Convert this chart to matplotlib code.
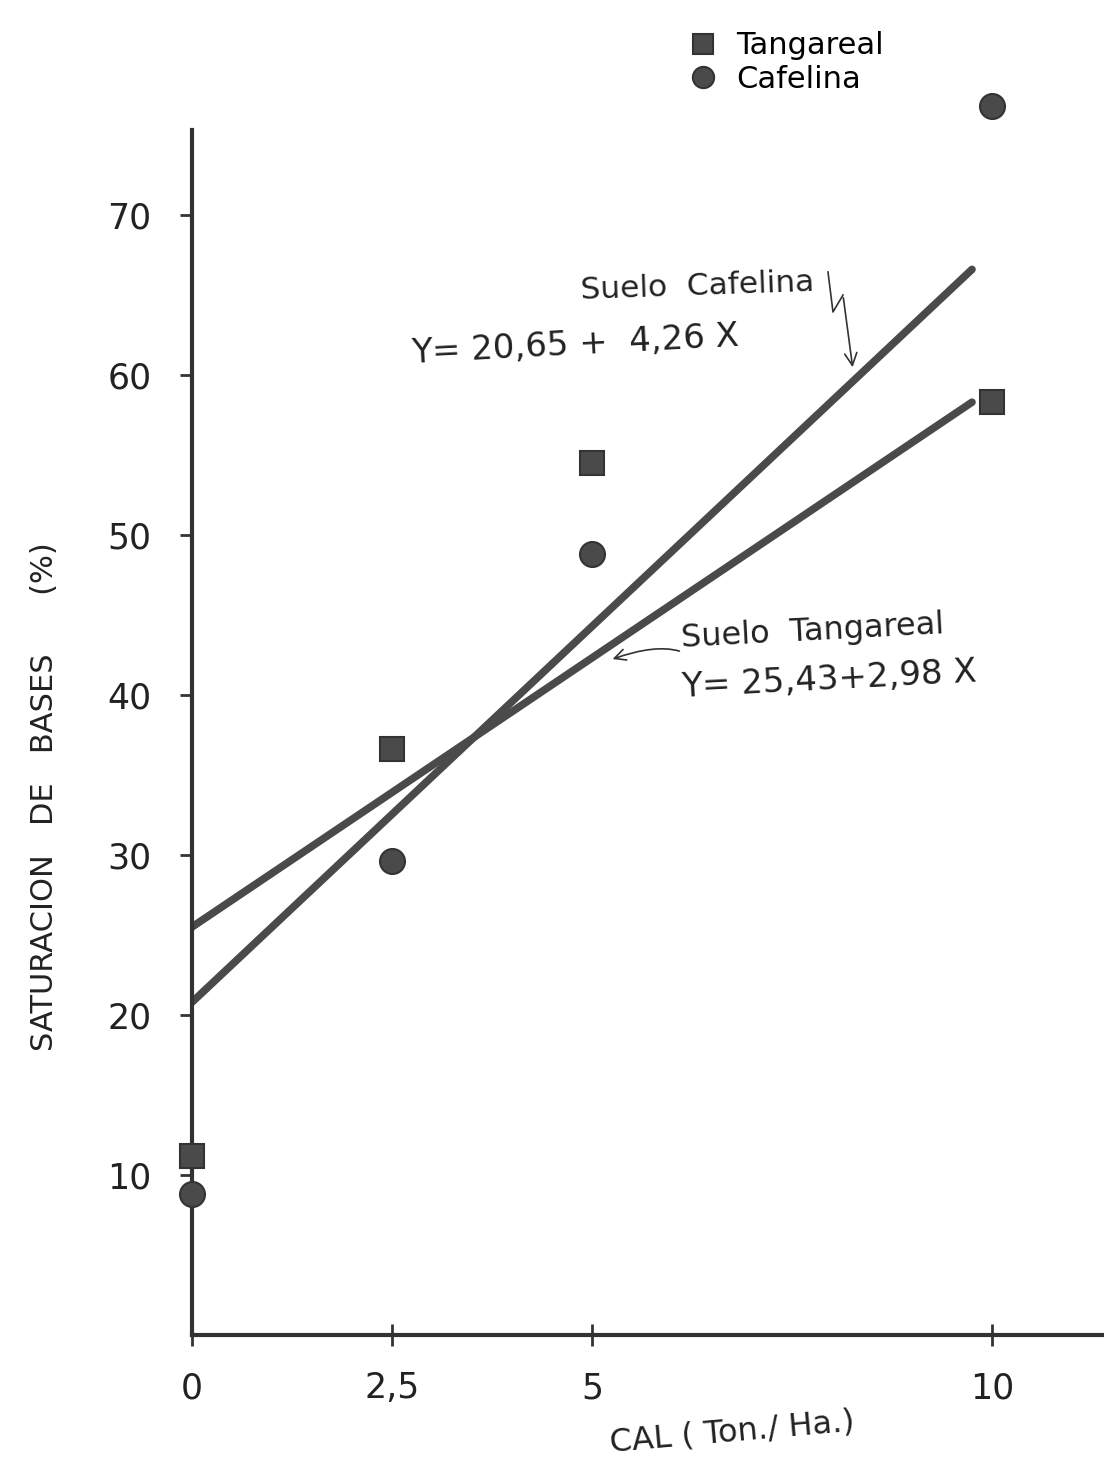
import matplotlib

matplotlib.use("Agg")
import matplotlib.pyplot as plt
from matplotlib.lines import Line2D

# lime dose (Ton./Ha.) and base saturation (%)
cal_dose = [0, 2.5, 5, 10]
tangareal = [11.2, 36.6, 54.5, 58.3]
cafelina = [8.8, 29.6, 48.8, 76.8]

# fitted lines, end points as drawn
fit_x = [0, 9.75]
tangareal_fit = [25.5, 58.3]
cafelina_fit = [20.8, 66.6]

y_ticks = [10, 20, 30, 40, 50, 60, 70]
x_ticks = [0, 2.5, 5, 10]
x_tick_labels = ["0", "2,5", "5", "10"]

W, H = 1104, 1463
INK = "#333333"
MARK = "#4a4a4a"
TXT = "#222222"


def px(x, y):
    return x / W, 1 - y / H


plt.rcParams["font.family"] = ["DejaVu Sans"]

fig = plt.figure(figsize=(W / 100, H / 100), dpi=100)
ax = fig.add_axes([192 / W, 1 - 1335 / H, (W - 192) / W, (1335 - 130) / H])

ax.plot(fit_x, cafelina_fit, color=MARK, lw=5.5, solid_capstyle="round", zorder=2)
ax.plot(fit_x, tangareal_fit, color=MARK, lw=5.5, solid_capstyle="round", zorder=2)

ax.plot(cal_dose, tangareal, ls="none", marker="s", ms=17, color=MARK,
        mec=INK, mew=1.5, clip_on=False, zorder=3, label="Tangareal")
ax.plot(cal_dose, cafelina, ls="none", marker="o", ms=18, color=MARK,
        mec=INK, mew=1.5, clip_on=False, zorder=3, label="Cafelina")

ax.set_xlim(0, (W - 192) / 80)
ax.set_ylim(0, (1335 - 130) / 16)

for side in ("top", "right"):
    ax.spines[side].set_visible(False)
for side in ("left", "bottom"):
    ax.spines[side].set_linewidth(3)
    ax.spines[side].set_color(INK)

ax.set_yticks(y_ticks)
ax.set_xticks(x_ticks)
ax.set_xticklabels(x_tick_labels)
ax.tick_params(axis="y", direction="out", length=9, width=2, color=INK,
               labelsize=25, pad=20, labelcolor=TXT)
ax.tick_params(axis="x", direction="inout", length=16, width=2, color=INK,
               labelsize=25, pad=18, labelcolor=TXT)

fig.text(*px(45, 797), "SATURACION   DE   BASES      (%)", rotation=90,
         ha="center", va="center", fontsize=22, color=TXT)
fig.text(*px(732, 1432), "CAL ( Ton./ Ha.)", rotation=5,
         ha="center", va="center", fontsize=23, color=TXT)

fig.legend(loc="upper left", bbox_to_anchor=px(660, 4), frameon=False,
           fontsize=22, markerscale=0.85, handlelength=1.0,
           handletextpad=0.6, labelspacing=0.15)

# regression labels
fig.text(*px(580, 286), "Suelo  Cafelina", rotation=2, ha="left",
         va="center", fontsize=22.5, color=TXT)
fig.text(*px(410, 345), "Y= 20,65 +  4,26 X", rotation=3, ha="left",
         va="center", fontsize=24.5, color=TXT)
fig.text(*px(680, 632), "Suelo  Tangareal", rotation=3, ha="left",
         va="center", fontsize=23, color=TXT)
fig.text(*px(680, 680), "Y= 25,43+2,98 X", rotation=3, ha="left",
         va="center", fontsize=24.5, color=TXT)

# hand drawn arrows
zig = [px(828, 272), px(833, 312), px(843, 295)]
fig.add_artist(Line2D([p[0] for p in zig], [p[1] for p in zig],
                      transform=fig.transFigure, color=INK, lw=1.2))
plt.annotate("", xy=px(853, 370), xytext=px(843, 295),
             xycoords="figure fraction", textcoords="figure fraction",
             arrowprops=dict(arrowstyle="->", color=INK, lw=1.2,
                             mutation_scale=22))
plt.annotate("", xy=px(610, 660), xytext=px(682, 652),
             xycoords="figure fraction", textcoords="figure fraction",
             arrowprops=dict(arrowstyle="->", color=INK, lw=1.2,
                             mutation_scale=20,
                             connectionstyle="angle3,angleA=-20,angleB=20"))

fig.savefig("out.png", dpi=100, facecolor="white")
